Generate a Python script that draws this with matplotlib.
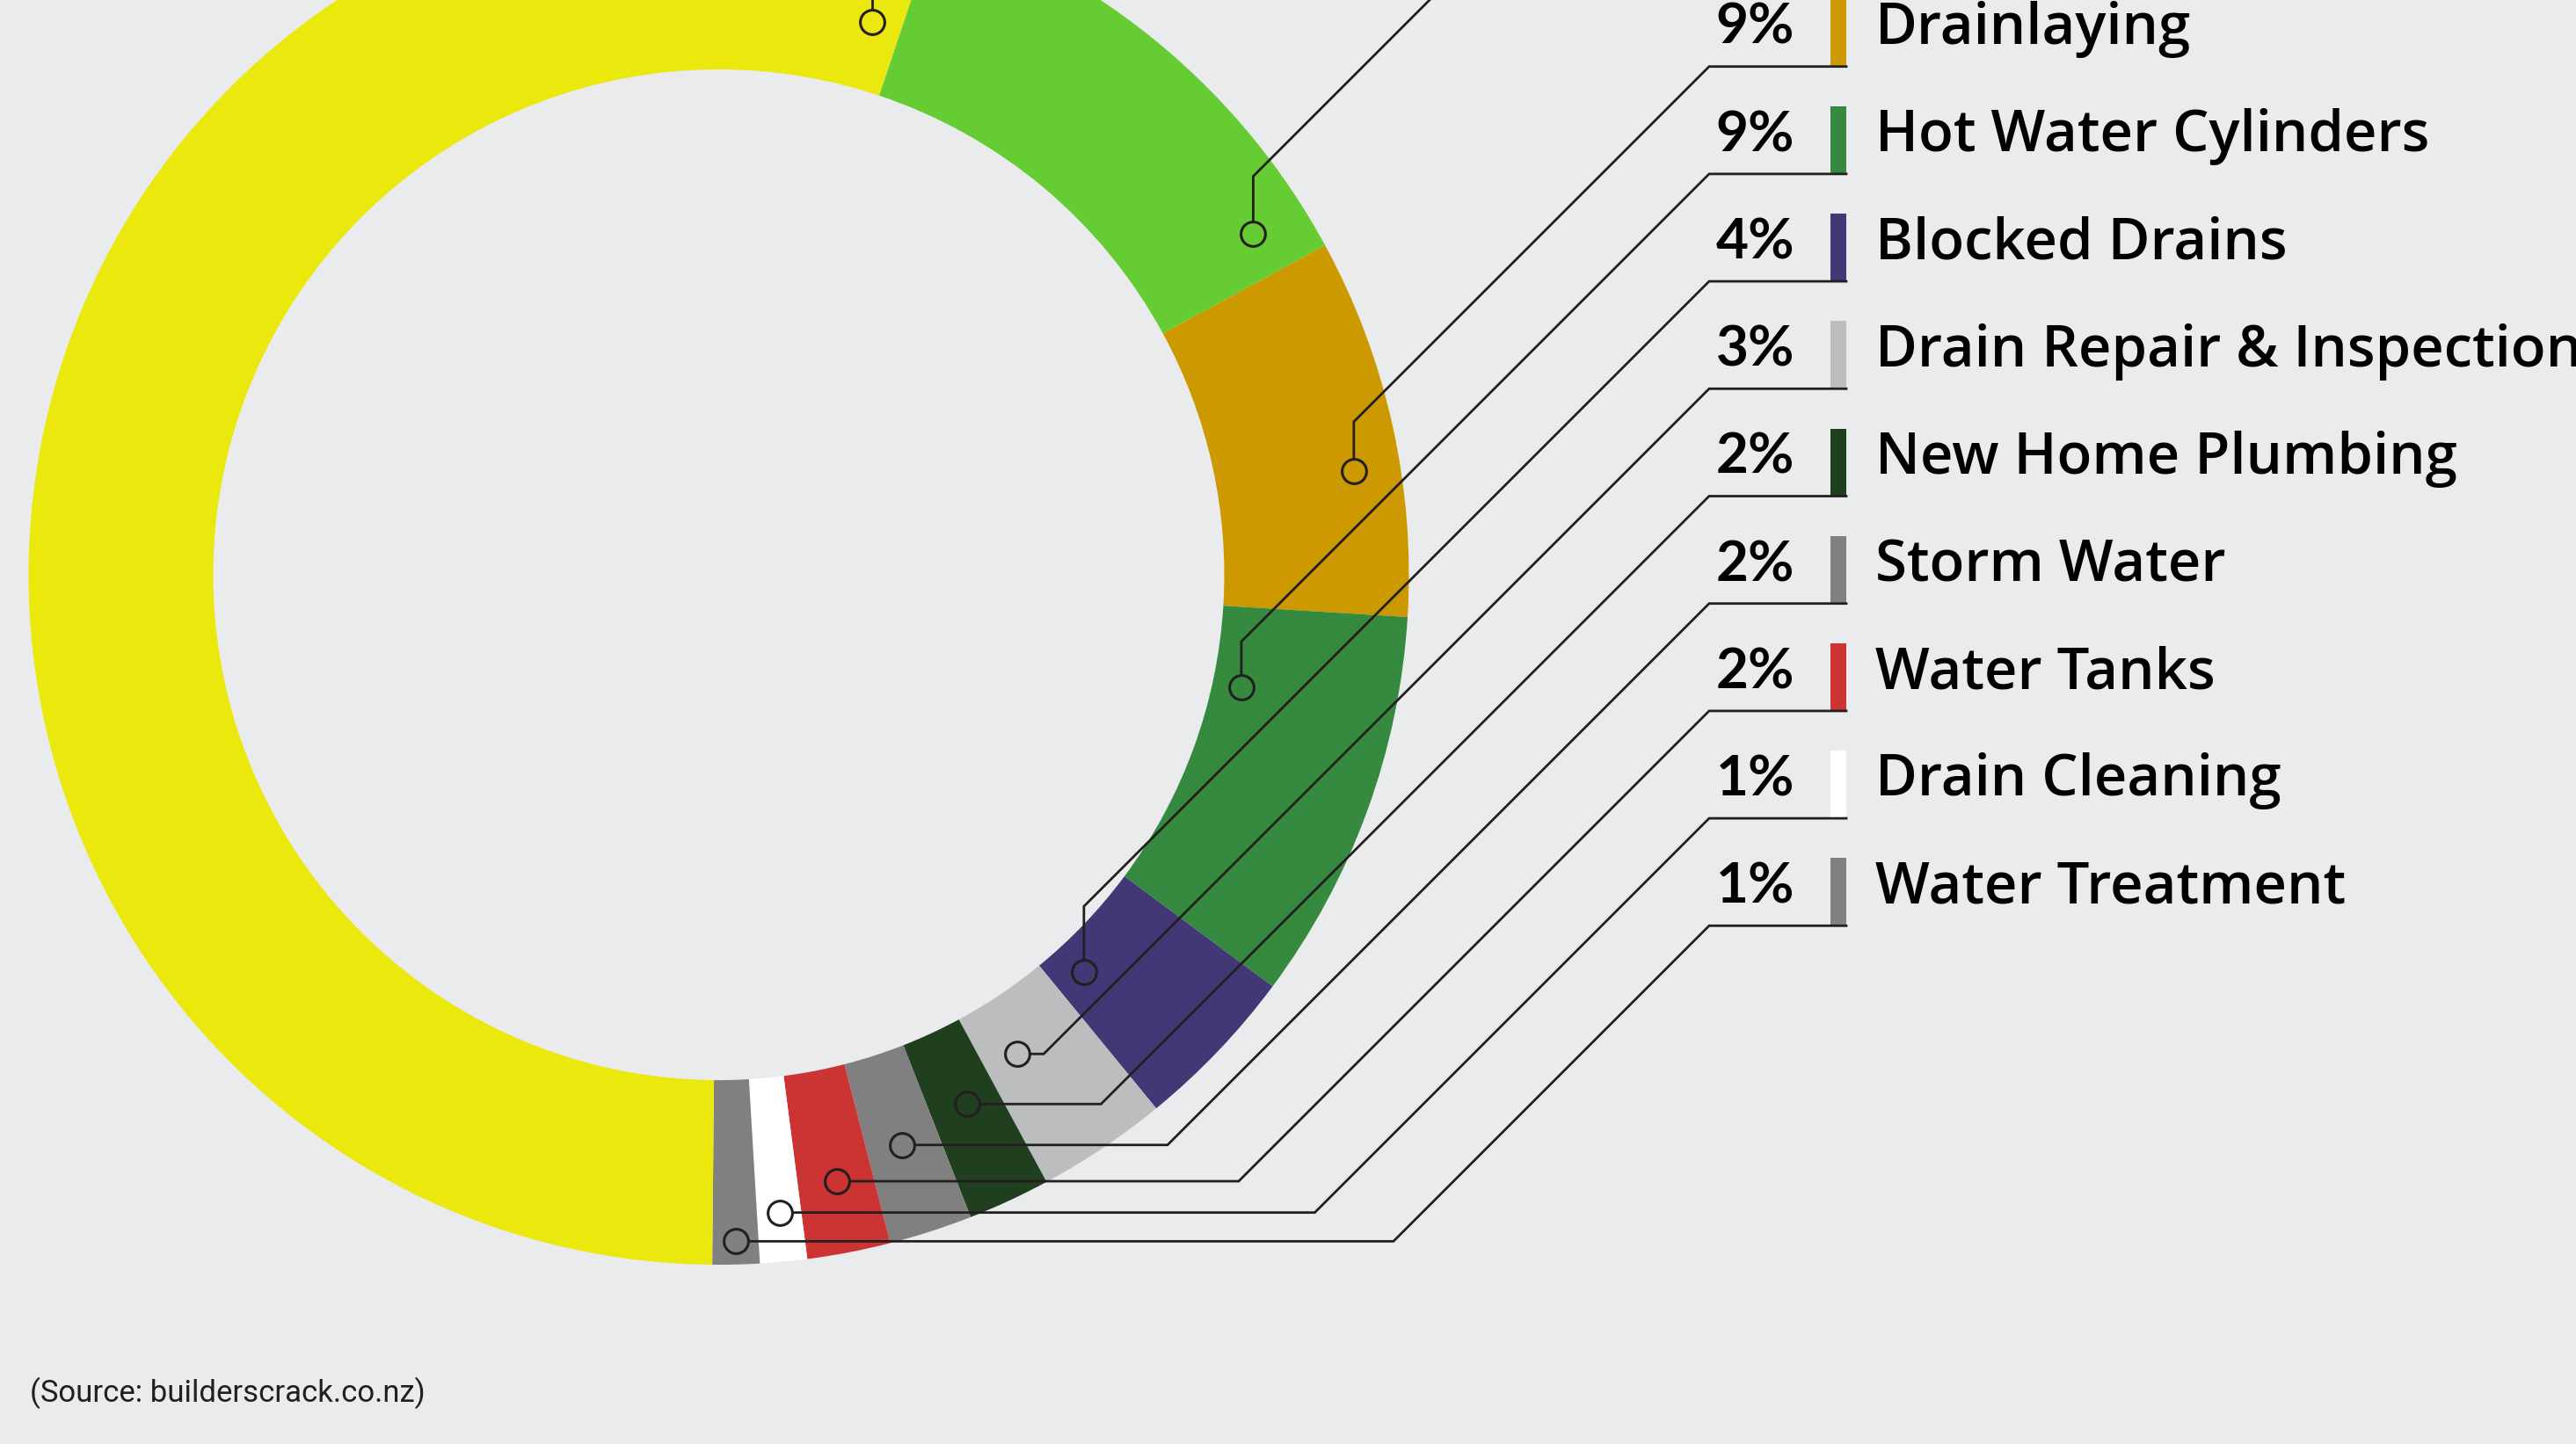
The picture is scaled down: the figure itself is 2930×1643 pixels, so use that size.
"""
Plumbing jobs donut with leader-line legend (cropped infographic)
"""

import numpy as np
import matplotlib.pyplot as plt

# slice data, clockwise from the green slice at the top
categories = [None, "Drainlaying", "Hot Water Cylinders", "Blocked Drains",
              "Drain Repair & Inspection", "New Home Plumbing", "Storm Water",
              "Water Tanks", "Drain Cleaning", "Water Treatment", None]
values = [11.94, 8.9, 9.2, 3.9, 3.05, 1.93, 1.95, 1.95, 1.1, 1.1, 55.0]
colors = ["#66CC33", "#CC9900", "#368A40", "#433876", "#BCBDBF", "#1F3F1F",
          "#808080", "#CC3333", "#FFFFFF", "#808080", "#EBE80E"]

# leader layout: position of dot inside its wedge, stub direction, legend row
dot_frac = [0.907, 0.6, 0.26, 0.77, 0.68, 0.47, 0.51, 0.48, 0.475, 0.5, 0.985]
dot_rad = [721, 732, 608, 614, 642, 665, 681.5, 703, 729, 758.6, 653]
stub = ["v", "v", "v", "v", "h", "h", "h", "h", "h", "h", "v"]

W, H = 2930, 1643
bg = "#EAEBED"
ink = "#231F20"

def py(y):
    # pixel row (from top) -> data y
    return H - y

row_pix = [-318] + [75.7 + 122.2 * k for k in range(9)] + [-1000]

fig = plt.figure(figsize=(W / 100, H / 100), dpi=100)
fig.patch.set_facecolor(bg)
ax = fig.add_axes([0, 0, 1, 1])
ax.set_facecolor(bg)

cx, cy = 817.5, py(654)
wedges, _ = ax.pie(values, colors=colors, startangle=71.5, counterclock=False,
                   radius=785, center=(cx, cy),
                   wedgeprops=dict(width=210, linewidth=0))

ex, bx = 1944, 2100  # elbow x, end of row line
for i, w in enumerate(wedges):
    a = np.radians(w.theta2 - dot_frac[i] * (w.theta2 - w.theta1))
    dx = cx + dot_rad[i] * np.cos(a)
    dy = cy + dot_rad[i] * np.sin(a)
    row = py(row_pix[i])
    if stub[i] == "v":
        p1 = (dx, row - (ex - dx))
    else:
        p1 = (ex - (row - dy), dy)
    xs = [dx, p1[0], ex, bx]
    ys = [dy, p1[1], row, row]
    ax.plot(xs, ys, color=ink, lw=2.0, solid_joinstyle="miter", zorder=3)
    ax.plot(dx, dy, "o", ms=20, mfc=colors[i], mec=ink, mew=2.2, zorder=4)

    if categories[i] is None:
        continue
    ax.bar(2091, 77, width=18, bottom=row, color=colors[i], zorder=2)
    ax.text(2041, row + 25.7, f"{round(values[i]):d}%", ha="right", va="baseline",
            fontsize=46, fontweight="bold", family="Lato", color="black")
    ax.text(2133, row + 25.7, categories[i], ha="left", va="baseline",
            fontsize=47, fontweight="semibold", family="Open Sans", color="black")

ax.text(34, py(1595), "(Source: builderscrack.co.nz)", ha="left", va="baseline",
        fontsize=25, family="Roboto", color=ink)

ax.set_xlim(0, W)
ax.set_ylim(0, H)
ax.set_aspect("equal")
ax.axis("off")

plt.savefig("out.png", dpi=100, facecolor=bg)
